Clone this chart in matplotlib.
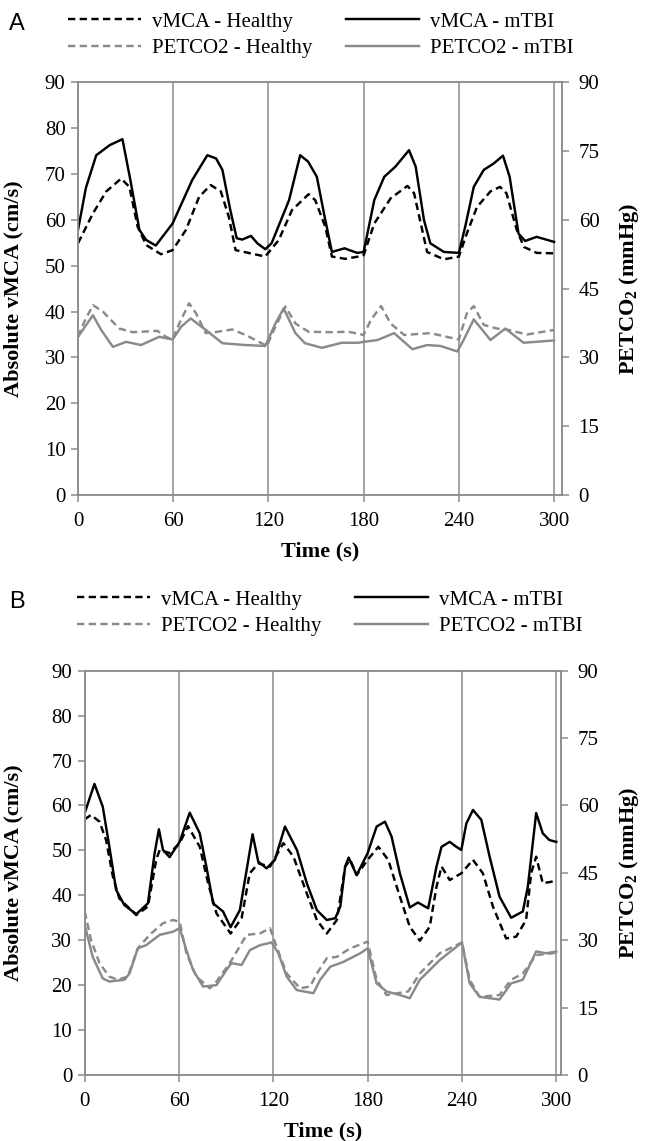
import matplotlib
matplotlib.use("Agg")
import matplotlib.pyplot as plt

# ---------------- data ----------------
xticks = [0, 60, 120, 180, 240, 300]
left_ticks = [0, 10, 20, 30, 40, 50, 60, 70, 80, 90]
right_ticks = [0, 15, 30, 45, 60, 75, 90]
labels = ["vMCA - Healthy", "PETCO2 - Healthy", "vMCA - mTBI", "PETCO2 - mTBI"]

# Panel A
a_vh_t = [0, 9.4, 17.8, 27.2, 32.4, 37.6, 43, 52.3, 59.6, 68, 76.3, 83.6, 90, 95, 99.3, 108.7, 118, 126.5,
          134.8, 145.3, 149.5, 155.8, 160, 168.4, 176.7, 180, 186.7, 197, 207.6, 211.8, 216, 220, 230.6, 240,
          245, 251.4, 259.9, 266, 270, 276.5, 281, 289, 300]
a_vh_v = [54.9, 61.4, 66.2, 69, 67.2, 58.5, 54.5, 52.5, 53.4, 57.8, 65, 67.6, 66.2, 60.7, 53.4, 52.7, 52, 55.6,
          62.1, 65.6, 64.3, 58.5, 52, 51.5, 52, 52.3, 59.2, 64.7, 67.4, 65.8, 59.2, 53, 51.4, 52,
          57, 62.8, 66.2, 67.2, 65.8, 57.8, 54.1, 52.8, 52.7]
a_vm_t = [0, 5, 11.5, 20, 28, 33, 38.7, 43, 49, 59.6, 72, 81.5, 87, 91, 96, 100, 103.5, 109, 113, 118, 122, 133,
          140, 145, 150.5, 155, 160, 168, 171, 176, 180, 186.7, 193, 200, 208.6, 212.8, 218, 222, 230.6, 240,
          244, 249.4, 255.7, 262, 267.8, 272, 277.6, 281.8, 289, 300]
a_vm_v = [57.8, 67, 74.1, 76.3, 77.6, 68.7, 57.8, 55.6, 54.4, 59.2, 68.7, 74.1, 73.4, 70.9, 62.1, 56, 55.7, 56.5,
          54.9, 53.6, 54.9, 64.3, 74.1, 72.7, 69.4, 61.4, 53, 53.8, 53.4, 52.8, 53, 64.3, 69.4, 71.6, 75.2, 71.6,
          60, 54.9, 53, 52.8, 58.5, 67.2, 70.9, 72.3, 74, 69.4, 57, 55.4, 56.3, 55.2]
a_ph_t = [0, 4, 9.4, 15.7, 26, 34.5, 50, 55.4, 59.6, 63.8, 70, 74.4, 80.5, 88, 97.2, 105.6, 114, 119, 124.4,
          130.7, 137, 145.3, 160, 170.4, 180, 184.6, 191, 197, 205.5, 222, 240, 245, 249.4, 255.7, 264, 270,
          283, 300]
a_ph_v = [34.5, 37.8, 41.4, 40, 36.3, 35.5, 35.8, 34.5, 33.9, 37.4, 41.8, 39.6, 35.3, 35.6, 36.1, 34.9, 33.4,
          32.5, 36.7, 41.1, 37.4, 35.6, 35.5, 35.6, 34.9, 38.2, 41.2, 37.4, 34.9, 35.3, 33.9, 39.6, 41.2, 37.1,
          36.3, 36.1, 35, 36]
a_pm_t = [0, 9.4, 14.6, 22, 30.3, 39.7, 51.2, 59.6, 65, 71, 80.5, 91, 105.6, 118, 124.4, 129.6, 137, 143,
          153.7, 166.2, 176.7, 180, 188.8, 199.2, 210.7, 220, 228.5, 239, 243, 249.4, 259.9, 269.3, 280.8, 300]
a_pm_v = [34.5, 39.2, 36, 32.3, 33.4, 32.7, 34.5, 33.9, 36.7, 38.5, 36, 33.1, 32.7, 32.5, 37.4, 40.7, 35.3,
          33.1, 32.1, 33.2, 33.2, 33.4, 33.8, 35.3, 31.8, 32.7, 32.5, 31.3, 33.8, 38.3, 33.8, 36.3, 33.2, 33.7]

# Panel B
b_vh_t = [0, 4, 9.4, 13.6, 17.9, 22, 32.8, 40.2, 45.5, 47.7, 54, 60.4, 65.7, 73.2, 78.5, 83.8, 92.8, 99.8,
          105, 110.4, 117.9, 126.4, 132.8, 141.3, 147.7, 154, 160.4, 165.7, 168.9, 173, 180, 186.8, 193.1,
          200.5, 206.8, 213.2, 219.5, 223.8, 227, 232.2, 239.6, 247, 253.3, 259.7, 268.1, 274.5, 280.8, 284,
          287.2, 291.4, 296.7, 300]
b_vh_v = [56.9, 57.9, 56.4, 52.3, 44.2, 39.3, 35.6, 37.5, 47.9, 50.1, 49.4, 51.6, 55.4, 50.8, 42.7, 36, 31.5,
          34.9, 44.9, 47.1, 46.4, 51.6, 48.6, 40.4, 34.5, 31.5, 34.5, 46.4, 47.9, 44.5, 47.9, 50.8, 47.9,
          39.7, 33, 29.9, 33, 41.9, 46.4, 43.4, 44.9, 47.9, 44.9, 37.5, 30.4, 30.8, 34.5, 44.9,
          48.6, 42.7, 43, 43.4]
b_vm_t = [0, 6.2, 11.5, 15.7, 20, 25.3, 32.8, 40.2, 44.5, 47.2, 49.8, 54, 60.4, 66.8, 73.2, 77.4, 81.7, 88,
          92.8, 98.7, 103, 106.8, 110.4, 115.7, 121, 127.4, 135, 141.3, 147.7, 154, 159.4, 162.6, 165.7,
          167.9, 173, 180, 185.7, 191, 195.2, 200.5, 206.8, 212, 218.5, 223.8, 227, 232.2, 236.4, 239.6,
          242.8, 247, 252.3, 257.6, 263.9, 271.3, 278.7, 281.9, 287.2, 291.4, 295.6, 300]
b_vm_v = [58.3, 64.8, 59.7, 50.8, 41.2, 37.8, 35.8, 38.2, 49.4, 54.7, 50.1, 48.5, 51.9, 58.4, 53.8, 46.4,
          38.2, 36.4, 32.9, 36.7, 45.6, 53.6, 47.5, 46, 47.9, 55.3, 50.1, 42.7, 36.7, 34.5, 34.9, 37.5, 46.4,
          48.4, 44.5, 49.4, 55.3, 56.4, 53.1, 44.9, 37.3, 38.4, 37.1, 46.4, 50.8, 51.9, 50.8, 50.1,
          56, 59, 56.8, 48.6, 39.7, 35, 36.4, 41.9, 58.3, 53.8, 52.3, 51.9]
b_ph_t = [0, 4, 9.4, 15.7, 21, 27.4, 33.8, 41.3, 49.8, 56.2, 60.4, 64.7, 71, 79.6, 83.8, 92.3, 103, 111.5,
          117.9, 122, 128.5, 137, 143.4, 147.7, 154, 160.4, 168.9, 180, 185.7, 192, 205.8, 213.2, 225.9, 240,
          244.9, 251.2, 263.9, 271.3, 278.7, 287.2, 300]
b_ph_v = [36.4, 30.1, 24.9, 21.9, 21.2, 21.9, 28.2, 31.2, 33.8, 34.5, 34.1, 27.1, 21.9, 19.3, 20.8, 24.9,
          31.2, 31.5, 32.7, 28.6, 22.6, 19.3, 19.7, 22.6, 26, 26.3, 28.2, 29.7, 21.2, 17.8, 18.6, 22.6, 27.1,
          29.5, 21.2, 17.4, 17.8, 21.2, 22.6, 26.7, 27.2]
b_pm_t = [0, 5.1, 11.5, 15.7, 25.3, 28.5, 33.8, 39.1, 47.7, 56.2, 60.4, 64.7, 68.9, 75.3, 83.8, 90.2, 93.4,
          99.8, 105.1, 111.5, 118.9, 123.2, 128.5, 134.9, 145.5, 149.8, 156.2, 164.7, 175.3, 180, 185.7, 192,
          200.5, 206.8, 213.2, 225.9, 240, 244.9, 251.2, 263.9, 271.3, 278.7, 287.2, 293.5, 300]
b_pm_v = [33.4, 26.3, 21.5, 20.8, 21.2, 22.6, 28.2, 28.9, 31.2, 31.9, 32.7, 27.8, 23.4, 19.7, 20, 23.4, 24.9,
          24.5, 27.8, 28.9, 29.5, 27.1, 21.9, 18.9, 18.2, 21.2, 24.1, 25.2, 27.1, 28.2, 20.4, 18.6,
          17.8, 17.1, 21.2, 25.6, 29.5, 20.4, 17.4, 16.8, 20.4, 21.2, 27.5, 27.1, 27.5]

# ---------------- style ----------------
W, H = 651, 1141
DPI = 100
GRAY = "#8c8c8c"
LGRAY = "#8a8a8a"
SERIF = ["Liberation Serif", "DejaVu Serif"]
plt.rcParams["mathtext.fontset"] = "custom"
plt.rcParams["mathtext.rm"] = "Liberation Serif"
plt.rcParams["mathtext.bf"] = "Liberation Serif:bold"

fig = plt.figure(figsize=(W / DPI, H / DPI), dpi=DPI)


def px_rect(l, r, t, b):
    return [l / W, 1 - b / H, (r - l) / W, (b - t) / H]


def make_panel(rect, xmax, data, letter, letter_xy, leg_xy, ylab_x, ylab2_x):
    ax = fig.add_axes(rect)
    ax2 = ax.twinx()
    (vh_t, vh_v, vm_t, vm_v, ph_t, ph_v, pm_t, pm_v) = data
    dash = (3.0, 1.8)
    lw = 1.75
    l1, = ax.plot(vh_t, vh_v, color="black", lw=lw, ls=(0, dash), solid_joinstyle="round")
    l3, = ax.plot(vm_t, vm_v, color="black", lw=lw, solid_joinstyle="round")
    l2, = ax2.plot(ph_t, ph_v, color=LGRAY, lw=lw, ls=(0, dash), solid_joinstyle="round")
    l4, = ax2.plot(pm_t, pm_v, color=LGRAY, lw=lw, solid_joinstyle="round")
    for a in (ax, ax2):
        a.set_xlim(0, xmax)
        a.set_ylim(0, 90)
        for s in a.spines.values():
            s.set_color(GRAY)
            s.set_linewidth(1.1)
    ax.set_xticks(xticks)
    ax.set_yticks(left_ticks)
    ax2.set_yticks(right_ticks)
    ax.xaxis.grid(True, color=GRAY, lw=1.1)
    ax.set_axisbelow(True)
    ax.tick_params(axis="both", colors=GRAY, direction="out", length=5, width=1.1,
                   labelcolor="black", labelsize=15)
    ax.tick_params(axis="x", pad=7)
    ax.tick_params(axis="y", pad=4)
    ax2.tick_params(axis="y", colors=GRAY, direction="out", length=5, width=1.1,
                    labelcolor="black", labelsize=15, pad=7)
    for lab in ax.get_xticklabels() + ax.get_yticklabels() + ax2.get_yticklabels():
        lab.set_fontfamily(SERIF)
    ax.set_xlabel("Time (s)", fontfamily=SERIF, fontweight="bold", fontsize=16, labelpad=8)
    pos = ax.get_position()
    ycen = pos.y0 + pos.height / 2
    fig.text(ylab_x / W, ycen, "Absolute vMCA (cm/s)", rotation=90, ha="center", va="center",
             fontfamily=SERIF, fontweight="bold", fontsize=16)
    fig.text(ylab2_x / W, ycen, r"PETCO$_{\mathbf{2}}$ (mmHg)", rotation=90, ha="center", va="center",
             fontfamily=SERIF, fontweight="bold", fontsize=16)
    fig.text(letter_xy[0] / W, 1 - letter_xy[1] / H, letter, ha="left", va="center",
             fontfamily=["Liberation Sans", "DejaVu Sans"], fontsize=17)
    fig.legend([l1, l2, l3, l4], labels, ncol=2, frameon=False, loc="upper left",
               bbox_to_anchor=(leg_xy[0] / W, 1 - leg_xy[1] / H), borderpad=0, borderaxespad=0,
               handlelength=3.5, handletextpad=0.55, columnspacing=1.6, labelspacing=0.32,
               prop={"family": SERIF, "size": 15})
    return ax, ax2


make_panel(px_rect(78, 562, 82.3, 495), 305,
           (a_vh_t, a_vh_v, a_vm_t, a_vm_v, a_ph_t, a_ph_v, a_pm_t, a_pm_v),
           "A", (9, 24), (68, 12), 13, 629)
make_panel(px_rect(84.7, 561, 670.7, 1075), 303,
           (b_vh_t, b_vh_v, b_vm_t, b_vm_v, b_ph_t, b_ph_v, b_pm_t, b_pm_v),
           "B", (9, 602), (77, 590), 13, 629)

fig.savefig("out.png", dpi=DPI)
